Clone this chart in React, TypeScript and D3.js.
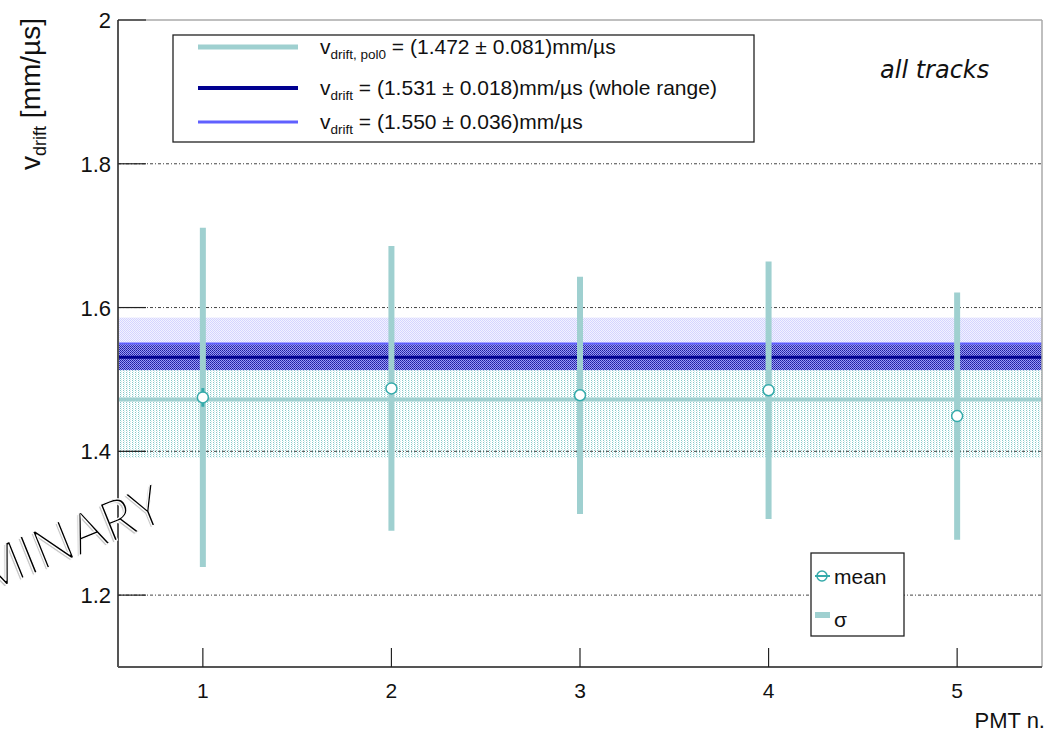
import React from "react";
import * as d3 from "d3";

const pmt = [1, 2, 3, 4, 5];
const meanV = [1.475, 1.4875, 1.478, 1.485, 1.449];
const meanErr = [0.013, 0.006, 0.006, 0.006, 0.008];
const sigmaV = [0.236, 0.198, 0.165, 0.179, 0.172];
const yTicks = [1.2, 1.4, 1.6, 1.8, 2];
const xTicks = [1, 2, 3, 4, 5];
const gridVals = [1.2, 1.4, 1.6, 1.8];

const fitPol0 = { v: 1.472, e: 0.081 };
const fitWhole = { v: 1.531, e: 0.018 };
const fitBlue = { v: 1.55, e: 0.036 };

const W = 1048;
const H = 734;
const L = 118, R = 1042, T = 20, B = 667;

const TEAL = "#9fd0d0";
const TEAL_D = "#35aaaa";
const NAVY = "#000090";
const BLUE = "#6060ff";
const FONT = "'Liberation Sans', Arial, Helvetica, sans-serif";

export default function App() {
  const x = d3.scaleLinear().domain([0.55, 5.45]).range([L, R]);
  const y = d3.scaleLinear().domain([1.1, 2]).range([B, T]);

  const band = (c: { v: number; e: number }) => ({
    y0: y(c.v + c.e),
    y1: y(c.v - c.e),
  });
  const bP = band(fitPol0);
  const bB = band(fitBlue);
  const bW = band(fitWhole);

  const legendRows = [
    { sub: "drift, pol0", txt: " = (1.472 ± 0.081)mm/µs", color: TEAL, w: 5 },
    { sub: "drift", txt: " = (1.531 ± 0.018)mm/µs (whole range)", color: NAVY, w: 4 },
    { sub: "drift", txt: " = (1.550 ± 0.036)mm/µs", color: BLUE, w: 3 },
  ];
  const rowY = [47, 88, 122];

  return (
    <svg
      width={W}
      height={H}
      style={{ position: "absolute", left: 0, top: 0, background: "#fff" }}
      fontFamily={FONT}
    >
      <defs>
        <pattern id="pTeal" width="3" height="2" patternUnits="userSpaceOnUse">
          <rect x="0" y="0" width="1" height="1" fill="#86caca" />
          <rect x="1" y="1" width="1" height="1" fill="#d0ecec" />
        </pattern>
        <pattern id="pLav" width="2" height="2" patternUnits="userSpaceOnUse">
          <rect width="2" height="2" fill="#f2f2ff" />
          <rect x="0" y="0" width="1" height="1" fill="#d4d4ff" />
          <rect x="1" y="1" width="1" height="1" fill="#d4d4ff" />
        </pattern>
        <pattern id="pBlue" width="2" height="2" patternUnits="userSpaceOnUse">
          <rect width="2" height="2" fill="#9c9cf0" />
          <rect x="0" y="0" width="1" height="1" fill="#1c1ca0" />
          <rect x="1" y="1" width="1" height="1" fill="#3030c0" />
        </pattern>
      </defs>

      {/* bands */}
      <rect x={L} y={bP.y0} width={R - L} height={bP.y1 - bP.y0} fill="url(#pTeal)" />
      <rect x={L} y={bB.y0} width={R - L} height={bB.y1 - bB.y0} fill="url(#pLav)" />
      <rect x={L} y={bW.y0} width={R - L} height={bW.y1 - bW.y0} fill="url(#pBlue)" />
      <line x1={L} x2={R} y1={y(fitBlue.v)} y2={y(fitBlue.v)} stroke={BLUE} strokeWidth={2} />
      <line x1={L} x2={R} y1={y(fitWhole.v)} y2={y(fitWhole.v)} stroke={NAVY} strokeWidth={3} />

      {/* grid */}
      {gridVals.map((g) => (
        <line
          key={g}
          x1={L}
          x2={R}
          y1={y(g)}
          y2={y(g)}
          stroke="#444"
          strokeWidth={1}
          strokeDasharray="3 2 1 2"
        />
      ))}

      {/* pol0 line */}
      <line x1={L} x2={R} y1={y(fitPol0.v)} y2={y(fitPol0.v)} stroke={TEAL} strokeWidth={4} />

      {/* sigma bars */}
      {pmt.map((p, i) => (
        <line
          key={"s" + p}
          x1={x(p)}
          x2={x(p)}
          y1={y(meanV[i] + sigmaV[i])}
          y2={y(meanV[i] - sigmaV[i])}
          stroke={TEAL}
          strokeWidth={6}
        />
      ))}
      {/* mean error + markers */}
      {pmt.map((p, i) => (
        <g key={"m" + p}>
          <line
            x1={x(p)}
            x2={x(p)}
            y1={y(meanV[i] + meanErr[i])}
            y2={y(meanV[i] - meanErr[i])}
            stroke={TEAL_D}
            strokeWidth={3}
          />
          <circle cx={x(p)} cy={y(meanV[i])} r={5.5} fill="#fff" stroke={TEAL_D} strokeWidth={1.5} />
        </g>
      ))}

      {/* frame */}
      <line x1={L} x2={R} y1={T} y2={T} stroke="#aaa" strokeWidth={1.5} />
      <line x1={R} x2={R} y1={T} y2={B} stroke="#aaa" strokeWidth={1.5} />
      <line x1={L} x2={L} y1={T} y2={B} stroke="#555" strokeWidth={2} />
      <line x1={L} x2={R} y1={B} y2={B} stroke="#555" strokeWidth={2} />

      {/* y ticks */}
      {yTicks.map((t) => (
        <g key={"yt" + t}>
          <line x1={L} x2={L + 28} y1={y(t)} y2={y(t)} stroke="#222" strokeWidth={1.2} />
          <text x={L - 7} y={y(t) + 8} fontSize={22} textAnchor="end" fill="#111">
            {d3.format("")(t)}
          </text>
        </g>
      ))}

      {/* x ticks */}
      {xTicks.map((t) => (
        <g key={"xt" + t}>
          <line x1={x(t)} x2={x(t)} y1={B} y2={B - 19} stroke="#222" strokeWidth={1.2} />
          <text x={x(t)} y={B + 31} fontSize={21} textAnchor="middle" fill="#111">
            {t}
          </text>
        </g>
      ))}

      {/* axis titles */}
      <text x={1045} y={728} fontSize={22} textAnchor="end" fill="#111">
        PMT n.
      </text>
      <text transform="translate(40,18) rotate(-90)" fontSize={28} textAnchor="end" fill="#111">
        v<tspan dy={6} fontSize={18}>drift</tspan>
        <tspan dy={-6} fontSize={28}> [mm/µs]</tspan>
      </text>

      {/* top legend */}
      <rect x={173} y={35} width={581} height={107} fill="#fff" stroke="#222" strokeWidth={1.3} />
      {legendRows.map((r, i) => (
        <g key={"lg" + i}>
          <line x1={198} x2={298} y1={rowY[i]} y2={rowY[i]} stroke={r.color} strokeWidth={r.w} />
          <text x={320} y={rowY[i] + 7} fontSize={21} fill="#111">
            v<tspan dy={5} fontSize={13.5}>{r.sub}</tspan>
            <tspan dy={-5} fontSize={21}>{r.txt}</tspan>
          </text>
        </g>
      ))}

      {/* all tracks */}
      <text
        x={880}
        y={78}
        fontSize={24}
        fontStyle="italic"
        fontFamily="'DejaVu Sans', sans-serif"
        fill="#111"
      >
        all tracks
      </text>

      {/* mean / sigma legend */}
      <rect x={811} y={553} width={93} height={83} fill="#fff" stroke="#222" strokeWidth={1.3} />
      <line x1={815} x2={830} y1={576} y2={576} stroke={TEAL_D} strokeWidth={2} />
      <circle cx={822} cy={576} r={5} fill="none" stroke={TEAL_D} strokeWidth={1.5} />
      <text x={834} y={584} fontSize={21} fill="#111">mean</text>
      <rect x={815} y={612} width={15} height={6} fill={TEAL} />
      <text x={834} y={627} fontSize={21} fill="#111">σ</text>

      {/* preliminary watermark */}
      <g transform="translate(167,520) rotate(-22)">
        <text
          x={-2.5}
          y={1}
          fontSize={55}
          textAnchor="end"
          fontFamily="'Open Sans', 'DejaVu Sans', sans-serif"
          fontWeight={300}
          fill="#c8c8c8"
          stroke="#fff"
          strokeWidth={1}
        >
          PRELIMINARY
        </text>
        <text
          x={0}
          y={0}
          fontSize={55}
          textAnchor="end"
          fontFamily="'Open Sans', 'DejaVu Sans', sans-serif"
          fontWeight={300}
          fill="#000"
          stroke="#fff"
          strokeWidth={1.2}
        >
          PRELIMINARY
        </text>
      </g>
    </svg>
  );
}
